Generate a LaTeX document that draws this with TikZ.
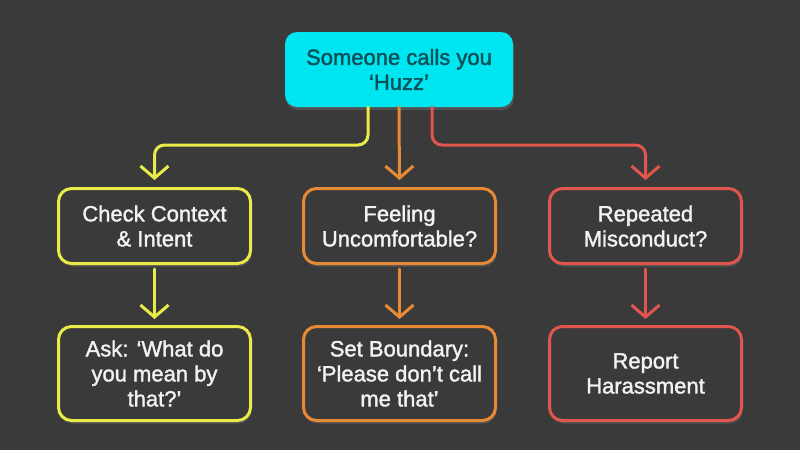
\documentclass[tikz,border=0pt]{standalone}
\usepackage{fontspec}
\setmainfont{Liberation Sans}
\newfontfamily\medfont{Liberation Sans}[FakeBold=1.6]
\usetikzlibrary{arrows.meta,shadows,calc}
\definecolor{bg}{HTML}{3A3A3A}
\definecolor{boxfill}{HTML}{3A3A3A}
\definecolor{cyanbox}{HTML}{00E6F0}
\definecolor{toptext}{HTML}{0B5058}
\definecolor{cyel}{HTML}{EAEA48}
\definecolor{corg}{HTML}{E88A35}
\definecolor{cred}{HTML}{E0554C}
\definecolor{ltext}{HTML}{F2F2F2}
\begin{document}
\begin{tikzpicture}[x=1pt,y=-1pt,
  txt/.style={font=\medfont\fontsize{22}{25}\selectfont, align=center},
  topbox/.style={txt, fill=cyanbox, text=toptext, rounded corners=12pt,
    minimum width=228pt, minimum height=75pt, inner sep=0pt,
    drop shadow={opacity=0.35, shadow xshift=1pt, shadow yshift=-3pt}},
  stepbox/.style={txt, fill=boxfill, draw=#1, line width=3pt, text=ltext,
    rounded corners=13pt, minimum width=192pt, inner sep=0pt,
    drop shadow={opacity=0.35, shadow xshift=1pt, shadow yshift=-3pt}},
  rowone/.style={minimum height=75pt},
  rowtwo/.style={minimum height=94pt},
  conn/.style={draw=#1, line width=3pt, line cap=round, line join=round,
    rounded corners=10pt,
    -{Straight Barb[length=12pt,width=28pt,line width=3pt]}}
]
\fill[bg] (0,0) rectangle (800,450);
\useasboundingbox (0,0) rectangle (800,450);

\node[topbox] (top) at (399,69.5) {Someone calls you\\‘Huzz’};

\node[stepbox=cyel, rowone] (ck) at (154.5,226) {Check Context\\\& Intent};
\node[stepbox=corg, rowone] (fu) at (399.5,226) {Feeling\\Uncomfortable?};
\node[stepbox=cred, rowone] (rm) at (645.5,226) {Repeated\\Misconduct?};

\node[stepbox=cyel, rowtwo] (ask) at (154.5,373.5) {Ask: ‘What do\\you mean by\\that?’};
\node[stepbox=corg, rowtwo] (sb) at (399.5,373.5) {Set Boundary:\\‘Please don’t call\\me that’};
\node[stepbox=cred, rowtwo] (rh) at (645.5,373.5) {Report\\Harassment};

\coordinate (ya) at (368,145);
\coordinate (ra) at (432,145);

\draw[conn=cyel, shorten >=7pt] ([xshift=-31pt]top.south) -- (ya) -| (ck.north);
\draw[conn=corg, shorten >=7pt] (top.south) -- (fu.north);
\draw[conn=cred, shorten >=7pt] ([xshift=33pt]top.south) -- (ra) -| (rm.north);

\draw[conn=cyel, shorten <=4pt, shorten >=6pt] (ck.south) -- (ask.north);
\draw[conn=corg, shorten <=4pt, shorten >=6pt] (fu.south) -- (sb.north);
\draw[conn=cred, shorten <=4pt, shorten >=6pt] (rm.south) -- (rh.north);
\end{tikzpicture}
\end{document}
